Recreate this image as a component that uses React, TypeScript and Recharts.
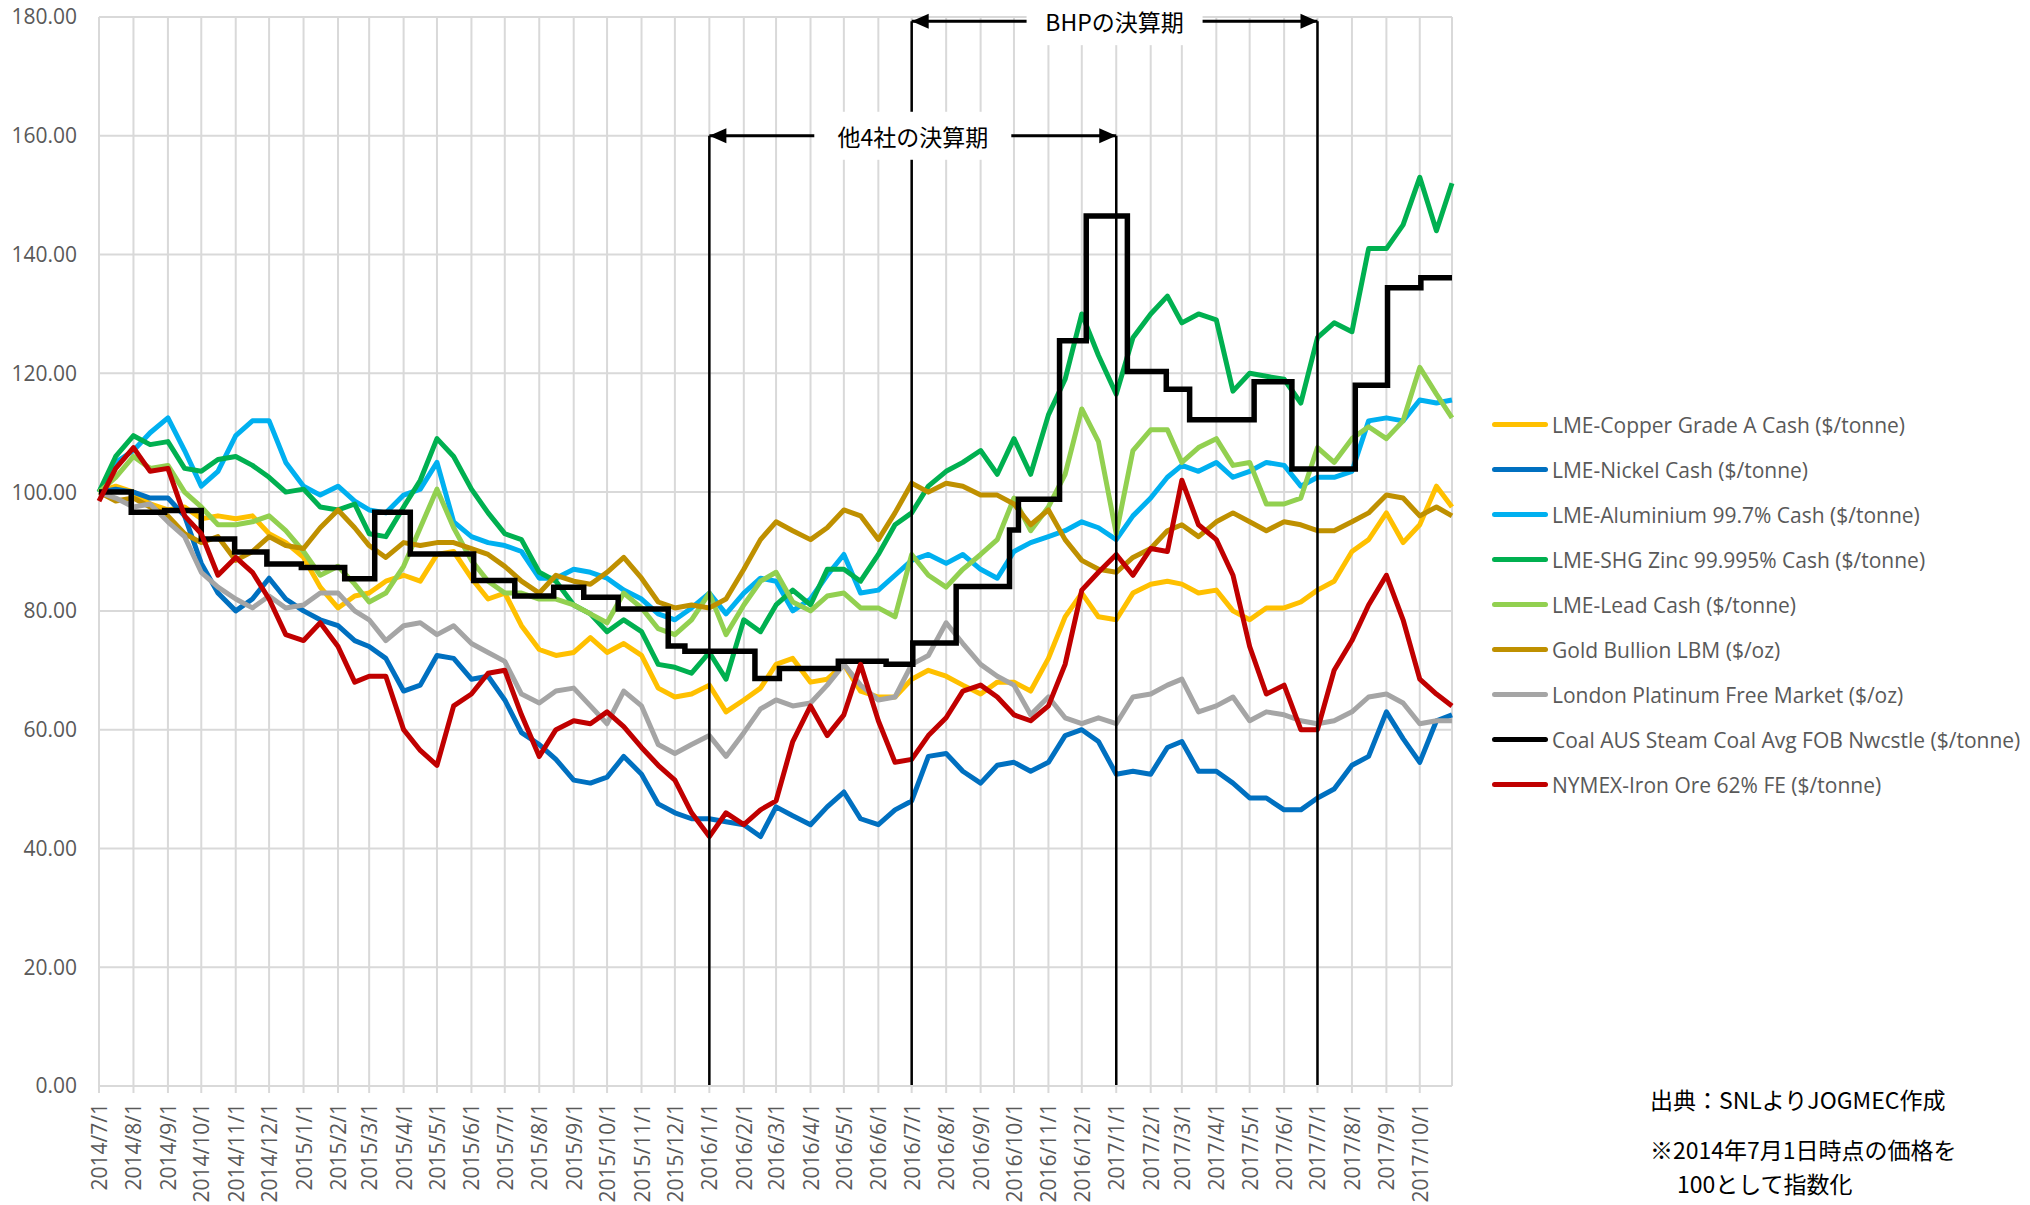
import { CartesianGrid, Line, LineChart, ReferenceDot, ReferenceLine, XAxis, YAxis } from "recharts";

// month labels on the date axis
const tickLabels = [
  "2014/7/1", "2014/8/1", "2014/9/1", "2014/10/1", "2014/11/1", "2014/12/1",
  "2015/1/1", "2015/2/1", "2015/3/1", "2015/4/1", "2015/5/1", "2015/6/1",
  "2015/7/1", "2015/8/1", "2015/9/1", "2015/10/1", "2015/11/1", "2015/12/1",
  "2016/1/1", "2016/2/1", "2016/3/1", "2016/4/1", "2016/5/1", "2016/6/1",
  "2016/7/1", "2016/8/1", "2016/9/1", "2016/10/1", "2016/11/1", "2016/12/1",
  "2017/1/1", "2017/2/1", "2017/3/1", "2017/4/1", "2017/5/1", "2017/6/1",
  "2017/7/1", "2017/8/1", "2017/9/1", "2017/10/1",
];
const lastDate = "2017/10/30";

// index values sampled on the 1st and 16th of each month, last one = lastDate
const copper = [
  100, 101, 100, 98, 97, 97.5, 95.5, 96, 95.5, 96, 93, 91.5, 89, 84, 80.5, 82.5, 83, 85, 86, 85, 89.5,
  90, 85.5, 82, 83, 77.5, 73.5, 72.5, 73, 75.5, 73, 74.5, 72.5, 67, 65.5, 66, 67.5, 63, 65, 67,
  71, 72, 68, 68.5, 71, 66.5, 65.5, 65.5, 68.5, 70, 69, 67.5, 66, 68, 68, 66.5, 72, 79, 83, 79,
  78.5, 83, 84.5, 85, 84.5, 83, 83.5, 80, 78.5, 80.5, 80.5, 81.5, 83.5, 85, 90, 92, 96.5, 91.5, 94.5, 101, 97.5,
];
const nickel = [
  100, 100.5, 100, 99, 99, 96, 88, 83, 80, 82, 85.5, 82, 80, 78.5, 77.5, 75, 74, 72, 66.5, 67.5, 72.5,
  72, 68.5, 69, 65, 59.5, 57.5, 55, 51.5, 51, 52, 55.5, 52.5, 47.5, 46, 45, 45, 44.5, 44, 42,
  47, 45.5, 44, 47, 49.5, 45, 44, 46.5, 48, 55.5, 56, 53, 51, 54, 54.5, 53, 54.5, 59, 60, 58,
  52.5, 53, 52.5, 57, 58, 53, 53, 51, 48.5, 48.5, 46.5, 46.5, 48.5, 50, 54, 55.5, 63, 58.5, 54.5, 61.5, 62.5,
];
const aluminium = [
  100, 105, 107, 110, 112.5, 107, 101, 103.5, 109.5, 112, 112, 105, 101, 99.5, 101, 98.5, 97, 96.5, 99.5, 100.5, 105,
  95, 92.5, 91.5, 91, 90, 85.5, 85.5, 87, 86.5, 85.5, 83.5, 82, 79.5, 78.5, 80.5, 83, 79.5, 83, 85.5,
  85, 80, 82, 86, 89.5, 83, 83.5, 86, 88.5, 89.5, 88, 89.5, 87, 85.5, 90, 91.5, 92.5, 93.5, 95, 94,
  92, 96, 99, 102.5, 104.5, 103.5, 105, 102.5, 103.5, 105, 104.5, 101, 102.5, 102.5, 103.5, 112, 112.5, 112, 115.5, 115, 115.5,
];
const zinc = [
  100, 106, 109.5, 108, 108.5, 104, 103.5, 105.5, 106, 104.5, 102.5, 100, 100.5, 97.5, 97, 98, 93, 92.5, 97.5, 102, 109,
  106, 100.5, 96.5, 93, 92, 86.5, 85, 81, 79.5, 76.5, 78.5, 76.5, 71, 70.5, 69.5, 73, 68.5, 78.5, 76.5,
  81, 83.5, 81, 87, 87, 85, 89.5, 94.5, 96.5, 101, 103.5, 105, 107, 103, 109, 103, 113, 119, 130, 123,
  116.5, 126, 130, 133, 128.5, 130, 129, 117, 120, 119.5, 119, 115, 126, 128.5, 127, 141, 141, 145, 153, 144, 152,
];
const lead = [
  100, 102.5, 106, 104, 104.5, 100, 97.5, 94.5, 94.5, 95, 96, 93.5, 90, 86, 87.5, 84.5, 81.5, 83, 87.5, 94, 100.5,
  94, 88.5, 85, 83, 83, 82, 82, 81, 79.5, 78, 83, 80.5, 77, 76, 78.5, 83, 76, 81, 85,
  86.5, 81.5, 80, 82.5, 83, 80.5, 80.5, 79, 89.5, 86, 84, 87, 89.5, 92, 99, 93.5, 97.5, 103, 114, 108.5,
  93, 107, 110.5, 110.5, 105, 107.5, 109, 104.5, 105, 98, 98, 99, 107.5, 105, 109, 111, 109, 112, 121, 116.5, 112.5,
];
const gold = [
  100, 98.5, 99, 97.5, 96, 93, 91.5, 92.5, 88.5, 90, 92.5, 91, 90.5, 94, 97, 94, 91, 89, 91.5, 91, 91.5,
  91.5, 90.5, 89.5, 87.5, 85, 83, 86, 85, 84.5, 86.5, 89, 85.5, 81.5, 80.5, 81, 80.5, 82, 87, 92,
  95, 93.5, 92, 94, 97, 96, 92, 96.5, 101.5, 100, 101.5, 101, 99.5, 99.5, 98, 94.5, 97, 92, 88.5, 87,
  86.5, 89, 90.5, 93.5, 94.5, 92.5, 95, 96.5, 95, 93.5, 95, 94.5, 93.5, 93.5, 95, 96.5, 99.5, 99, 96, 97.5, 96,
];
const platinum = [
  100, 99, 97.5, 98, 95, 92.5, 86.5, 84, 82, 80.5, 82.5, 80.5, 81, 83, 83, 80, 78.5, 75, 77.5, 78, 76,
  77.5, 74.5, 73, 71.5, 66, 64.5, 66.5, 67, 64, 61, 66.5, 64, 57.5, 56, 57.5, 59, 55.5, 59.5, 63.5,
  65, 64, 64.5, 67.5, 71, 67.5, 65, 65.5, 71, 72.5, 78, 74.5, 71, 69, 67.5, 62.5, 65.5, 62, 61, 62,
  61, 65.5, 66, 67.5, 68.5, 63, 64, 65.5, 61.5, 63, 62.5, 61.5, 61, 61.5, 63, 65.5, 66, 64.5, 61, 61.5, 61.5,
];
const ironOre = [
  98.5, 104, 107.5, 103.5, 104, 96, 93, 86, 89, 86.5, 82, 76, 75, 78, 74, 68, 69, 69, 60, 56.5, 54,
  64, 66, 69.5, 70, 62.5, 55.5, 60, 61.5, 61, 63, 60.5, 57, 54, 51.5, 46, 42, 46, 44, 46.5,
  48, 58, 64, 59, 62.5, 71, 61.5, 54.5, 55, 59, 62, 66.5, 67.5, 65.5, 62.5, 61.5, 64, 71, 83.5, 86.5,
  89.5, 86, 90.5, 90, 102, 94.5, 92, 86, 74, 66, 67.5, 60, 60, 70, 75, 81, 86, 78.5, 68.5, 66, 64,
];

// coal is quoted in steps: date the level starts, and the level
const coalDates = [
  "2014/7/1", "2014/7/30", "2014/8/29", "2014/10/1", "2014/10/31", "2014/11/29", "2014/12/30",
  "2015/2/7", "2015/3/6", "2015/4/7", "2015/6/3", "2015/7/10", "2015/8/14", "2015/9/10",
  "2015/10/11", "2015/11/25", "2015/12/10", "2016/2/11", "2016/3/4", "2016/4/26", "2016/6/8",
  "2016/7/2", "2016/8/10", "2016/9/27", "2016/10/5", "2016/11/11", "2016/12/5", "2017/1/11",
  "2017/2/15", "2017/3/8", "2017/5/5", "2017/6/8", "2017/8/4", "2017/9/2", "2017/10/2", "2017/10/30",
];
const coal = [
  100, 96.6, 96.9, 92.1, 89.9, 87.9, 87.3, 85.4, 96.6, 89.6, 85.1, 82.5, 84.0, 82.3, 80.3, 74.1, 73.2,
  68.6, 70.3, 71.5, 71.0, 74.6, 84.1, 93.6, 98.8, 125.5, 146.5, 120.3, 117.3, 112.2, 118.6, 103.9,
  118.0, 134.4, 136.1, 136.1,
];

const yTicks = [0, 20, 40, 60, 80, 100, 120, 140, 160, 180];

const toDay = (s: string) => {
  const [y, m, d] = s.split("/").map(Number);
  return Math.round((Date.UTC(y, m - 1, d) - Date.UTC(2014, 6, 1)) / 86400000);
};

const sampleDates = [...tickLabels.flatMap((l) => [l, l.replace(/1$/, "16")]), lastDate];
const xTicks = tickLabels.map(toDay);
const labelByDay: Record<number, string> = {};
tickLabels.forEach((l) => (labelByDay[toDay(l)] = l));

const series = [
  { key: "copper", name: "LME-Copper Grade A Cash ($/tonne)", color: "#FFC000", values: copper },
  { key: "nickel", name: "LME-Nickel Cash ($/tonne)", color: "#0070C0", values: nickel },
  { key: "aluminium", name: "LME-Aluminium 99.7% Cash ($/tonne)", color: "#00B0F0", values: aluminium },
  { key: "zinc", name: "LME-SHG Zinc 99.995% Cash ($/tonne)", color: "#00B050", values: zinc },
  { key: "lead", name: "LME-Lead Cash ($/tonne)", color: "#92D050", values: lead },
  { key: "gold", name: "Gold Bullion LBM ($/oz)", color: "#BF9000", values: gold },
  { key: "platinum", name: "London Platinum Free Market ($/oz)", color: "#A5A5A5", values: platinum },
  { key: "coal", name: "Coal AUS Steam Coal Avg FOB Nwcstle ($/tonne)", color: "#000000", values: coal },
  { key: "iron", name: "NYMEX-Iron Ore 62% FE ($/tonne)", color: "#C00000", values: ironOre },
];

const data = sampleDates.map((d, i) => {
  const row: Record<string, number> = { t: toDay(d) };
  series.forEach((s) => {
    if (s.key !== "coal") row[s.key] = s.values[i];
  });
  return row;
});
const coalData = coalDates.map((d, i) => ({ t: toDay(d), coal: coal[i] }));

// fiscal period markers
const otherStart = toDay("2016/1/1");
const otherEnd = toDay("2017/1/1");
const bhpStart = toDay("2016/7/1");
const bhpEnd = toDay("2017/7/1");
const otherLevel = 160;
const bhpLevel = 179.3;

const GRID = "#D9D9D9";
const TEXT = "#595959";
const JP = "'Noto Sans CJK JP', sans-serif";

const XTick = (props: any) => {
  const { x, y, payload } = props;
  return (
    <text
      x={x}
      y={y}
      transform={`rotate(-90 ${x} ${y})`}
      textAnchor="end"
      dominantBaseline="central"
      fontSize={21}
      fill={TEXT}
    >
      {labelByDay[payload.value]}
    </text>
  );
};

const arrowHead = (dir: "left" | "right") => (p: any) => {
  const { cx, cy } = p;
  const s = dir === "left" ? 1 : -1;
  return <path d={`M${cx},${cy} L${cx + s * 17},${cy - 7.5} L${cx + s * 17},${cy + 7.5} Z`} fill="#000" />;
};

const labelBox = (text: string, w: number) => (p: any) => {
  const { cx, cy } = p;
  return (
    <g>
      <rect x={cx - w / 2} y={cy - 24} width={w} height={48} fill="#fff" />
      <text x={cx} y={cy} textAnchor="middle" dominantBaseline="central" fontSize={23} fontFamily={JP} fill="#000">
        {text}
      </text>
    </g>
  );
};

function LegendList() {
  return (
    <div style={{ position: "absolute", left: 1492, top: 402, fontSize: 21, color: TEXT }}>
      {series.map((s) => (
        <div key={s.key} style={{ height: 45, display: "flex", alignItems: "center", whiteSpace: "nowrap" }}>
          <span style={{ width: 56, height: 5, borderRadius: 3, background: s.color, marginRight: 4 }} />
          <span>{s.name}</span>
        </div>
      ))}
    </div>
  );
}

const noteStyle = {
  position: "absolute" as const,
  fontFamily: JP,
  fontSize: 23,
  lineHeight: "23px",
  color: "#000",
  whiteSpace: "nowrap" as const,
};

export default function App() {
  return (
    <div style={{ position: "absolute", left: 0, top: 0, width: 2030, height: 1205, background: "#fff", fontFamily: "'Open Sans', sans-serif", overflow: "hidden" }}>
      <LineChart width={2030} height={1205} data={data} margin={{ top: 17, right: 578, bottom: 0, left: 0 }}>
        <CartesianGrid stroke={GRID} strokeWidth={2} />
        <XAxis
          dataKey="t"
          type="number"
          domain={[0, toDay(lastDate)]}
          ticks={xTicks}
          interval={0}
          height={119}
          tick={<XTick />}
          tickSize={7}
          tickMargin={10}
          stroke={GRID}
          strokeWidth={2}
          tickLine={{ stroke: GRID, strokeWidth: 2 }}
        />
        <YAxis
          domain={[0, 180]}
          ticks={yTicks}
          width={99}
          axisLine={false}
          tickLine={false}
          tickSize={0}
          tickMargin={22}
          tick={{ fontSize: 21, fill: TEXT }}
          tickFormatter={(v: number) => v.toFixed(2)}
        />
        {series.map((s) =>
          s.key === "coal" ? (
            <Line
              key={s.key}
              data={coalData}
              dataKey="coal"
              type="stepAfter"
              stroke={s.color}
              strokeWidth={5.5}
              dot={false}
              isAnimationActive={false}
            />
          ) : (
            <Line
              key={s.key}
              dataKey={s.key}
              type="linear"
              stroke={s.color}
              strokeWidth={5}
              strokeLinejoin="round"
              dot={false}
              isAnimationActive={false}
            />
          )
        )}
        <ReferenceLine segment={[{ x: otherStart, y: 0 }, { x: otherStart, y: otherLevel }]} stroke="#000" strokeWidth={2.5} />
        <ReferenceLine segment={[{ x: otherEnd, y: 0 }, { x: otherEnd, y: otherLevel }]} stroke="#000" strokeWidth={2.5} />
        <ReferenceLine segment={[{ x: bhpStart, y: 0 }, { x: bhpStart, y: bhpLevel }]} stroke="#000" strokeWidth={2.5} />
        <ReferenceLine segment={[{ x: bhpEnd, y: 0 }, { x: bhpEnd, y: bhpLevel }]} stroke="#000" strokeWidth={2.5} />
        <ReferenceLine segment={[{ x: otherStart, y: otherLevel }, { x: otherEnd, y: otherLevel }]} stroke="#000" strokeWidth={3} />
        <ReferenceLine segment={[{ x: bhpStart, y: bhpLevel }, { x: bhpEnd, y: bhpLevel }]} stroke="#000" strokeWidth={3} />
        <ReferenceDot x={otherStart} y={otherLevel} shape={arrowHead("left")} />
        <ReferenceDot x={otherEnd} y={otherLevel} shape={arrowHead("right")} />
        <ReferenceDot x={bhpStart} y={bhpLevel} shape={arrowHead("left")} />
        <ReferenceDot x={bhpEnd} y={bhpLevel} shape={arrowHead("right")} />
        <ReferenceDot x={(otherStart + otherEnd) / 2} y={otherLevel} shape={labelBox("他4社の決算期", 197)} />
        <ReferenceDot x={(bhpStart + bhpEnd) / 2} y={bhpLevel} shape={labelBox("BHPの決算期", 176)} />
      </LineChart>
      <LegendList />
      <div style={{ ...noteStyle, left: 1650, top: 1088 }}>出典：SNLよりJOGMEC作成</div>
      <div style={{ ...noteStyle, left: 1650, top: 1138 }}>※2014年7月1日時点の価格を</div>
      <div style={{ ...noteStyle, left: 1677, top: 1172 }}>100として指数化</div>
    </div>
  );
}
